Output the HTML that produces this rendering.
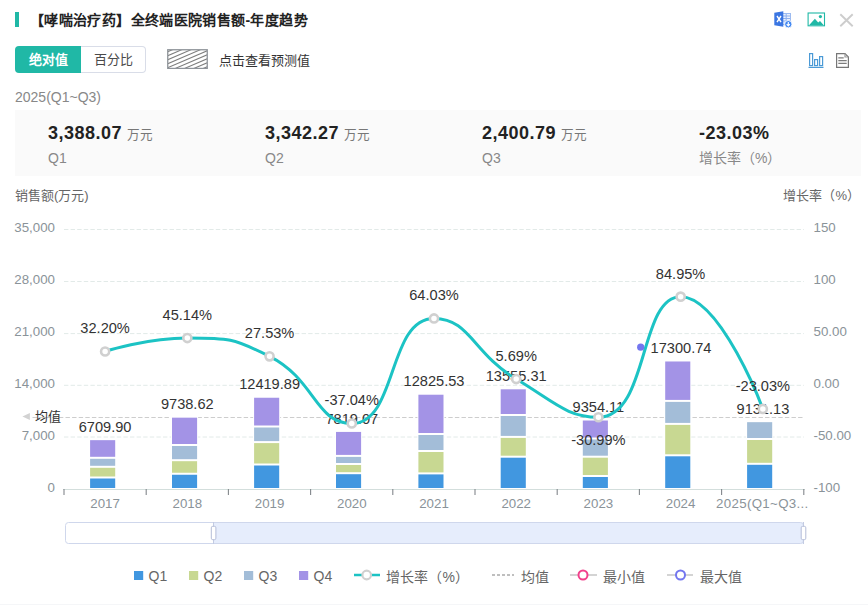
<!DOCTYPE html>
<html lang="zh-CN">
<head>
<meta charset="utf-8">
<title>【哮喘治疗药】全终端医院销售额-年度趋势</title>
<style>
html,body{margin:0;padding:0;background:#fff;}
body{width:868px;height:605px;position:relative;overflow:hidden;font-family:"Liberation Sans",sans-serif;color:#333;}
.abs{position:absolute;white-space:nowrap;line-height:1;}
.bar{left:15px;top:12px;width:4px;height:15px;background:#20b8a6;}
.title{left:30px;top:12px;font-size:14px;letter-spacing:0.36px;font-weight:bold;color:#222;line-height:16px;}
.tab{top:46px;height:27px;line-height:27px;font-size:13px;text-align:center;box-sizing:border-box;}
.tab.on{left:15px;width:66px;background:#20b8a6;color:#fff;font-weight:bold;border-radius:4px 0 0 4px;}
.tab.off{left:81px;width:65px;border:1px solid #d9dde8;border-left:none;color:#4a4a4a;border-radius:0 4px 4px 0;line-height:25px;font-weight:500;}
.hatch{left:167px;top:49px;width:41px;height:20px;}
.fc{left:219px;top:54px;font-size:13px;color:#333;line-height:14px;font-weight:500;}
.period{left:15px;top:89px;font-size:14px;color:#888;line-height:16px;}
.panel{left:15px;top:110px;width:846px;height:66px;background:#fafafa;}
.num{top:123px;font-size:18px;font-weight:bold;color:#222;line-height:20px;letter-spacing:0.5px;}
.unit{font-size:12.6px;font-weight:normal;color:#777;margin-left:5px;letter-spacing:0;}
.sub{top:149.5px;font-size:14px;color:#888;line-height:16px;}
.axt{top:188px;font-size:13px;color:#666;line-height:15px;}
svg text{font-family:"Liberation Sans",sans-serif;}
</style>
</head>
<body>
<div class="abs" style="left:0;top:604px;width:868px;height:1px;background:#f5f6f8"></div>
<div class="abs bar"></div>
<div class="abs title">【哮喘治疗药】全终端医院销售额-年度趋势</div>

<svg class="abs" style="left:760px;top:0" width="108" height="80" viewBox="0 0 108 80">

<!-- excel -->
<g>
<rect x="21" y="13.5" width="9.5" height="11" fill="#eaf1fd" stroke="#9dbbf0" stroke-width="1"/>
<path d="M22 16h8M22 18.5h8M22 21h8M26.2 14v10" stroke="#8fb0ee" stroke-width="1"/>
<path d="M14.3 12.8 L23.3 11.3 V26.7 L14.3 25.2 Z" fill="#3b76e2"/>
<path d="M17 16 L21 22.2 M21 16 L17 22.2" stroke="#fff" stroke-width="1.4"/>
<circle cx="28.3" cy="24.2" r="3.7" fill="#3f86f2" stroke="#fff" stroke-width="0.9"/>
<path d="M28.3 22v3.4M26.7 24.1 L28.3 25.9 L29.9 24.1" stroke="#fff" stroke-width="1.1" fill="none"/>
</g>
<!-- image -->
<g>
<rect x="48.1" y="13" width="16.4" height="12.8" fill="#fff" stroke="#20b8a6" stroke-width="1.1"/>
<path d="M49 25.3 L54.9 18.8 L58.2 22.6 L60 20.9 L63.8 25.3 Z" fill="#20b8a6"/>
<circle cx="60.4" cy="16.6" r="1.6" fill="#20b8a6"/>
</g>
<!-- close -->
<path d="M80.3 14.2 L92.7 26.2 M92.7 14.2 L80.3 26.2" stroke="#cdcdcd" stroke-width="1.9" fill="none"/>
<!-- bar icon -->
<g fill="none" stroke="#4b9ad6" stroke-width="1.2">
<rect x="49.6" y="53.6" width="3" height="12"/>
<rect x="54.6" y="59.6" width="3" height="6"/>
<rect x="59.6" y="56.6" width="3" height="9"/>
<path d="M48.5 67.4h15"/>
</g>
<!-- doc icon -->
<g fill="none" stroke="#777" stroke-width="1.2">
<path d="M76.6 53.6 H85 L88.4 57 V67.4 H76.6 Z"/>
<path d="M85 53.6 V57 H88.4" stroke="#999"/>
<path d="M78.3 57.9h5.4M78.3 60.6h8.4M78.3 63.4h8.4" stroke="#7d7d7d" stroke-width="1.3"/>
</g>

</svg>

<div class="abs tab on">绝对值</div>
<div class="abs tab off">百分比</div>
<svg class="abs hatch" width="41" height="20" viewBox="0 0 41 20">
<defs><clipPath id="hc"><rect x="1" y="1" width="39" height="18"/></clipPath></defs>
<g clip-path="url(#hc)" stroke="#7d7d7d" stroke-width="1.05">
<line x1="0" y1="3.0" x2="41" y2="-14.6"/>
<line x1="0" y1="7.0" x2="41" y2="-10.6"/>
<line x1="0" y1="11.0" x2="41" y2="-6.6"/>
<line x1="0" y1="15.0" x2="41" y2="-2.6"/>
<line x1="0" y1="19.0" x2="41" y2="1.4"/>
<line x1="0" y1="23.0" x2="41" y2="5.4"/>
<line x1="0" y1="27.0" x2="41" y2="9.4"/>
<line x1="0" y1="31.0" x2="41" y2="13.4"/>
<line x1="0" y1="35.0" x2="41" y2="17.4"/>
<line x1="0" y1="39.0" x2="41" y2="21.4"/>
</g>
<rect x="0.75" y="0.75" width="39.5" height="18.7" fill="none" stroke="#8e9399" stroke-width="1.3"/>
</svg>
<div class="abs fc">点击查看预测值</div>

<div class="abs period">2025(Q1~Q3)</div>
<div class="abs panel"></div>
<div class="abs num" style="left:48px">3,388.07<span class="unit">万元</span></div>
<div class="abs sub" style="left:48px">Q1</div>
<div class="abs num" style="left:265px">3,342.27<span class="unit">万元</span></div>
<div class="abs sub" style="left:265px">Q2</div>
<div class="abs num" style="left:482px">2,400.79<span class="unit">万元</span></div>
<div class="abs sub" style="left:482px">Q3</div>
<div class="abs num" style="left:699px">-23.03%</div>
<div class="abs sub" style="left:699px">增长率（%）</div>

<div class="abs axt" style="left:15px">销售额(万元)</div>
<div class="abs axt" style="right:8px">增长率（%）</div>

<svg class="abs" style="left:0;top:0" width="868" height="605" viewBox="0 0 868 605">
<line x1="64" x2="804" y1="229.5" y2="229.5" stroke="#e2eae8" stroke-width="1" stroke-dasharray="4.4 2.2"/>
<line x1="64" x2="804" y1="281.5" y2="281.5" stroke="#e2eae8" stroke-width="1" stroke-dasharray="4.4 2.2"/>
<line x1="64" x2="804" y1="333.6" y2="333.6" stroke="#e2eae8" stroke-width="1" stroke-dasharray="4.4 2.2"/>
<line x1="64" x2="804" y1="385.3" y2="385.3" stroke="#e2eae8" stroke-width="1" stroke-dasharray="4.4 2.2"/>
<line x1="64" x2="804" y1="437.0" y2="437.0" stroke="#e2eae8" stroke-width="1" stroke-dasharray="4.4 2.2"/>
<line x1="32.5" x2="804" y1="417.5" y2="417.5" stroke="#cdcdcd" stroke-width="1" stroke-dasharray="4.4 2.2"/>
<path d="M22.4 416.5 L29.9 412.9 L29.9 420.1 Z" fill="#d2d2d2"/>
<line x1="63" x2="805" y1="489.5" y2="489.5" stroke="#d3dedc" stroke-width="1"/>
<line x1="64.00" x2="64.00" y1="489" y2="495" stroke="#83878c" stroke-width="1.1"/>
<line x1="146.20" x2="146.20" y1="489" y2="495" stroke="#83878c" stroke-width="1.1"/>
<line x1="228.40" x2="228.40" y1="489" y2="495" stroke="#83878c" stroke-width="1.1"/>
<line x1="310.60" x2="310.60" y1="489" y2="495" stroke="#83878c" stroke-width="1.1"/>
<line x1="392.80" x2="392.80" y1="489" y2="495" stroke="#83878c" stroke-width="1.1"/>
<line x1="475.00" x2="475.00" y1="489" y2="495" stroke="#83878c" stroke-width="1.1"/>
<line x1="557.20" x2="557.20" y1="489" y2="495" stroke="#83878c" stroke-width="1.1"/>
<line x1="639.40" x2="639.40" y1="489" y2="495" stroke="#83878c" stroke-width="1.1"/>
<line x1="721.60" x2="721.60" y1="489" y2="495" stroke="#83878c" stroke-width="1.1"/>
<line x1="803.80" x2="803.80" y1="489" y2="495" stroke="#83878c" stroke-width="1.1"/>
<rect x="89.10" y="439.16" width="27.10" height="49.84" fill="#fff"/>
<rect x="90.10" y="478.50" width="25.10" height="9.50" fill="#4197e0"/>
<rect x="90.10" y="467.80" width="25.10" height="8.70" fill="#c8d892"/>
<rect x="90.10" y="458.80" width="25.10" height="7.00" fill="#a3bdd8"/>
<rect x="90.10" y="440.16" width="25.10" height="16.64" fill="#a393e6"/>
<rect x="171.00" y="416.66" width="27.10" height="72.34" fill="#fff"/>
<rect x="172.00" y="474.75" width="25.10" height="13.25" fill="#4197e0"/>
<rect x="172.00" y="461.20" width="25.10" height="11.55" fill="#c8d892"/>
<rect x="172.00" y="446.00" width="25.10" height="13.20" fill="#a3bdd8"/>
<rect x="172.00" y="417.66" width="25.10" height="26.34" fill="#a393e6"/>
<rect x="253.10" y="396.74" width="27.10" height="92.26" fill="#fff"/>
<rect x="254.10" y="465.50" width="25.10" height="22.50" fill="#4197e0"/>
<rect x="254.10" y="443.10" width="25.10" height="20.40" fill="#c8d892"/>
<rect x="254.10" y="427.50" width="25.10" height="13.60" fill="#a3bdd8"/>
<rect x="254.10" y="397.74" width="25.10" height="27.76" fill="#a393e6"/>
<rect x="335.00" y="430.92" width="27.10" height="58.08" fill="#fff"/>
<rect x="336.00" y="474.20" width="25.10" height="13.80" fill="#4197e0"/>
<rect x="336.00" y="465.00" width="25.10" height="7.20" fill="#c8d892"/>
<rect x="336.00" y="456.90" width="25.10" height="6.10" fill="#a3bdd8"/>
<rect x="336.00" y="431.92" width="25.10" height="22.98" fill="#a393e6"/>
<rect x="417.40" y="393.72" width="27.10" height="95.28" fill="#fff"/>
<rect x="418.40" y="474.40" width="25.10" height="13.60" fill="#4197e0"/>
<rect x="418.40" y="452.00" width="25.10" height="20.40" fill="#c8d892"/>
<rect x="418.40" y="435.00" width="25.10" height="15.00" fill="#a3bdd8"/>
<rect x="418.40" y="394.72" width="25.10" height="38.28" fill="#a393e6"/>
<rect x="499.70" y="388.30" width="27.10" height="100.70" fill="#fff"/>
<rect x="500.70" y="457.70" width="25.10" height="30.30" fill="#4197e0"/>
<rect x="500.70" y="437.90" width="25.10" height="17.80" fill="#c8d892"/>
<rect x="500.70" y="416.00" width="25.10" height="19.90" fill="#a3bdd8"/>
<rect x="500.70" y="389.30" width="25.10" height="24.70" fill="#a393e6"/>
<rect x="581.80" y="419.51" width="27.10" height="69.49" fill="#fff"/>
<rect x="582.80" y="477.00" width="25.10" height="11.00" fill="#4197e0"/>
<rect x="582.80" y="457.70" width="25.10" height="17.30" fill="#c8d892"/>
<rect x="582.80" y="439.50" width="25.10" height="16.20" fill="#a3bdd8"/>
<rect x="582.80" y="420.51" width="25.10" height="16.99" fill="#a393e6"/>
<rect x="664.20" y="360.48" width="27.10" height="128.52" fill="#fff"/>
<rect x="665.20" y="456.30" width="25.10" height="31.70" fill="#4197e0"/>
<rect x="665.20" y="424.90" width="25.10" height="29.40" fill="#c8d892"/>
<rect x="665.20" y="401.90" width="25.10" height="21.00" fill="#a3bdd8"/>
<rect x="665.20" y="361.48" width="25.10" height="38.42" fill="#a393e6"/>
<rect x="746.10" y="421.17" width="27.10" height="67.83" fill="#fff"/>
<rect x="747.10" y="464.80" width="25.10" height="23.20" fill="#4197e0"/>
<rect x="747.10" y="440.00" width="25.10" height="22.80" fill="#c8d892"/>
<rect x="747.10" y="422.17" width="25.10" height="15.83" fill="#a3bdd8"/>
<text x="105.1" y="431.9" text-anchor="middle" style="font-size:14.6px;fill:#333">6709.90</text>
<text x="187.3" y="409.4" text-anchor="middle" style="font-size:14.6px;fill:#333">9738.62</text>
<text x="269.6" y="389.4" text-anchor="middle" style="font-size:14.6px;fill:#333">12419.89</text>
<text x="351.8" y="423.6" text-anchor="middle" style="font-size:14.6px;fill:#333">7819.07</text>
<text x="434.0" y="386.4" text-anchor="middle" style="font-size:14.6px;fill:#333">12825.53</text>
<text x="516.2" y="381.0" text-anchor="middle" style="font-size:14.6px;fill:#333">13555.31</text>
<text x="598.4" y="412.2" text-anchor="middle" style="font-size:14.6px;fill:#333">9354.11</text>
<text x="681.0" y="353.2" text-anchor="middle" style="font-size:14.6px;fill:#333">17300.74</text>
<text x="762.9" y="413.9" text-anchor="middle" style="font-size:14.6px;fill:#333">9131.13</text>
<path d="M105.11 351.51 C105.11 351.51 146.45 338.05 187.33 338.05 C228.67 338.05 233.17 338.05 269.55 356.37 C315.39 379.45 315.34 423.52 351.77 423.52 C397.56 423.52 387.43 318.41 433.99 318.41 C469.65 318.41 472.64 352.90 516.21 379.08 C554.86 402.31 566.93 417.23 598.43 417.23 C649.15 417.23 638.57 296.65 680.65 296.65 C720.79 296.65 762.87 408.95 762.87 408.95" fill="none" stroke="#1cc3c4" stroke-width="3" stroke-linejoin="round"/>
<circle cx="105.11" cy="351.51" r="4.05" fill="#fff" stroke="#d0d0d0" stroke-width="2.6"/>
<circle cx="187.33" cy="338.05" r="4.05" fill="#fff" stroke="#d0d0d0" stroke-width="2.6"/>
<circle cx="269.55" cy="356.37" r="4.05" fill="#fff" stroke="#d0d0d0" stroke-width="2.6"/>
<circle cx="351.77" cy="423.52" r="4.05" fill="#fff" stroke="#d0d0d0" stroke-width="2.6"/>
<circle cx="433.99" cy="318.41" r="4.05" fill="#fff" stroke="#d0d0d0" stroke-width="2.6"/>
<circle cx="516.21" cy="379.08" r="4.05" fill="#fff" stroke="#d0d0d0" stroke-width="2.6"/>
<circle cx="598.43" cy="417.23" r="4.05" fill="#fff" stroke="#d0d0d0" stroke-width="2.6"/>
<circle cx="680.65" cy="296.65" r="4.05" fill="#fff" stroke="#d0d0d0" stroke-width="2.6"/>
<circle cx="762.87" cy="408.95" r="4.05" fill="#fff" stroke="#d0d0d0" stroke-width="2.6"/>
<circle cx="640.7" cy="347.2" r="3.6" fill="#7376ef"/>
<text x="105.1" y="333.3" text-anchor="middle" style="font-size:14.6px;fill:#333">32.20%</text>
<text x="187.3" y="319.9" text-anchor="middle" style="font-size:14.6px;fill:#333">45.14%</text>
<text x="269.6" y="338.2" text-anchor="middle" style="font-size:14.6px;fill:#333">27.53%</text>
<text x="351.8" y="405.3" text-anchor="middle" style="font-size:14.6px;fill:#333">-37.04%</text>
<text x="434.0" y="300.2" text-anchor="middle" style="font-size:14.6px;fill:#333">64.03%</text>
<text x="516.2" y="360.9" text-anchor="middle" style="font-size:14.6px;fill:#333">5.69%</text>
<text x="598.4" y="445.4" text-anchor="middle" style="font-size:14.6px;fill:#333">-30.99%</text>
<text x="680.6" y="278.5" text-anchor="middle" style="font-size:14.6px;fill:#333">84.95%</text>
<text x="762.9" y="390.8" text-anchor="middle" style="font-size:14.6px;fill:#333">-23.03%</text>
<text x="55.0" y="232.4" text-anchor="end" style="font-size:13.3px;fill:#8a9399">35,000</text>
<text x="55.0" y="284.4" text-anchor="end" style="font-size:13.3px;fill:#8a9399">28,000</text>
<text x="55.0" y="336.4" text-anchor="end" style="font-size:13.3px;fill:#8a9399">21,000</text>
<text x="55.0" y="388.4" text-anchor="end" style="font-size:13.3px;fill:#8a9399">14,000</text>
<text x="55.0" y="440.4" text-anchor="end" style="font-size:13.3px;fill:#8a9399">7,000</text>
<text x="55.0" y="492.4" text-anchor="end" style="font-size:13.3px;fill:#8a9399">0</text>
<text x="813.5" y="232.4" text-anchor="start" style="font-size:13.3px;fill:#8a9399">150</text>
<text x="813.5" y="284.4" text-anchor="start" style="font-size:13.3px;fill:#8a9399">100</text>
<text x="813.5" y="336.4" text-anchor="start" style="font-size:13.3px;fill:#8a9399">50.00</text>
<text x="813.5" y="388.4" text-anchor="start" style="font-size:13.3px;fill:#8a9399">0.00</text>
<text x="813.5" y="440.4" text-anchor="start" style="font-size:13.3px;fill:#8a9399">-50.00</text>
<text x="813.5" y="492.4" text-anchor="start" style="font-size:13.3px;fill:#8a9399">-100</text>
<text x="105.1" y="507.8" text-anchor="middle" style="font-size:13.3px;fill:#8a9399">2017</text>
<text x="187.3" y="507.8" text-anchor="middle" style="font-size:13.3px;fill:#8a9399">2018</text>
<text x="269.6" y="507.8" text-anchor="middle" style="font-size:13.3px;fill:#8a9399">2019</text>
<text x="351.8" y="507.8" text-anchor="middle" style="font-size:13.3px;fill:#8a9399">2020</text>
<text x="434.0" y="507.8" text-anchor="middle" style="font-size:13.3px;fill:#8a9399">2021</text>
<text x="516.2" y="507.8" text-anchor="middle" style="font-size:13.3px;fill:#8a9399">2022</text>
<text x="598.4" y="507.8" text-anchor="middle" style="font-size:13.3px;fill:#8a9399">2023</text>
<text x="680.6" y="507.8" text-anchor="middle" style="font-size:13.3px;fill:#8a9399">2024</text>
<text x="762.3" y="507.8" text-anchor="middle" style="font-size:13.3px;fill:#8a9399;letter-spacing:0.33px">2025(Q1~Q3...</text>
<text x="35.0" y="421.3" text-anchor="start" style="font-size:13px;fill:#333">均值</text>
<rect x="213.5" y="522.5" width="590" height="21" fill="#e6edfc"/>
<rect x="65.5" y="522.5" width="738" height="21" rx="3" fill="none" stroke="#cfd7ec" stroke-width="1"/>
<line x1="213.5" x2="213.5" y1="522" y2="544" stroke="#c3cbe2" stroke-width="1"/>
<line x1="803.5" x2="803.5" y1="522" y2="544" stroke="#c3cbe2" stroke-width="1"/>
<rect x="211.3" y="526.3" width="4.6" height="13.4" rx="1.5" fill="#fff" stroke="#b4bdd8" stroke-width="1"/>
<rect x="801.2" y="526.3" width="4.6" height="13.4" rx="1.5" fill="#fff" stroke="#b4bdd8" stroke-width="1"/>
<rect x="134" y="571" width="9.2" height="9" fill="#4197e0"/>
<text x="148.6" y="581.3" text-anchor="start" style="font-size:14px;fill:#666">Q1</text>
<rect x="189" y="571" width="9.2" height="9" fill="#c8d892"/>
<text x="203.6" y="581.3" text-anchor="start" style="font-size:14px;fill:#666">Q2</text>
<rect x="244" y="571" width="9.2" height="9" fill="#a3bdd8"/>
<text x="258.6" y="581.3" text-anchor="start" style="font-size:14px;fill:#666">Q3</text>
<rect x="299" y="571" width="9.2" height="9" fill="#a393e6"/>
<text x="313.6" y="581.3" text-anchor="start" style="font-size:14px;fill:#666">Q4</text>
<line x1="354" x2="380" y1="575" y2="575" stroke="#1cc3c4" stroke-width="2.5"/>
<circle cx="366.7" cy="575" r="4.3" fill="#fff" stroke="#d0d0d0" stroke-width="2.2"/>
<text x="386.4" y="581.6" text-anchor="start" style="font-size:14px;fill:#666">增长率（%）</text>
<line x1="492" x2="514" y1="575" y2="575" stroke="#aaa" stroke-width="1.5" stroke-dasharray="3 2"/>
<text x="520.5" y="581.6" text-anchor="start" style="font-size:14px;fill:#666">均值</text>
<line x1="570" x2="597" y1="575" y2="575" stroke="#d4d4d4" stroke-width="2"/>
<circle cx="583" cy="575" r="4.5" fill="#fff" stroke="#f2408c" stroke-width="2"/>
<text x="603.2" y="581.6" text-anchor="start" style="font-size:14px;fill:#666">最小值</text>
<line x1="667" x2="693" y1="575" y2="575" stroke="#d4d4d4" stroke-width="2"/>
<circle cx="680.5" cy="575" r="4.5" fill="#fff" stroke="#7376ef" stroke-width="2"/>
<text x="700.0" y="581.6" text-anchor="start" style="font-size:14px;fill:#666">最大值</text>
</svg>
</body>
</html>
